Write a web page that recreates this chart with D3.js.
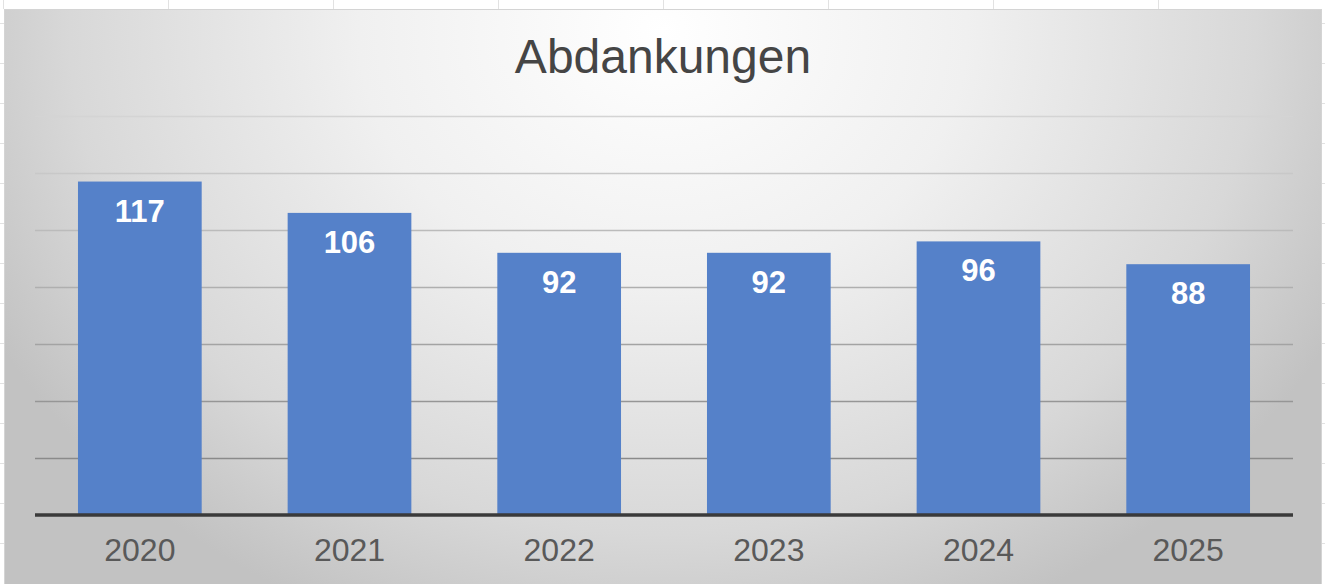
<!DOCTYPE html>
<html><head><meta charset="utf-8">
<script src="https://cdn.jsdelivr.net/npm/d3@7"></script>
<style>html,body{margin:0;padding:0;background:#fff;}svg{display:block;}</style>
</head><body>
<svg id="chart" width="1325" height="584"></svg>
<script>
const title = "Abdankungen";
const years = ["2020","2021","2022","2023","2024","2025"];
const values = [117, 106, 92, 92, 96, 88];
const yTicks = [0, 20, 40, 60, 80, 100, 120, 140];

const W = 1325, H = 584;
const svg = d3.select("#chart");
const defs = svg.append("defs");

// spreadsheet backdrop
const sheet = svg.append("g");
[3,168,333,498,663,828,993,1158].forEach(x => sheet.append("line")
  .attr("x1", x+0.5).attr("x2", x+0.5).attr("y1", 0).attr("y2", 9).attr("stroke", "#e2e2e2"));
[23,63,103,143,183,223,263,303,343,383,423,463,503,543].forEach(y => {
  sheet.append("line").attr("x1",0).attr("x2",4).attr("y1",y+0.5).attr("y2",y+0.5).attr("stroke","#e2e2e2");
  sheet.append("line").attr("x1",1322).attr("x2",1325).attr("y1",y+0.5).attr("y2",y+0.5).attr("stroke","#e2e2e2");
});

// chart background (radial gradient)
const rg = defs.append("radialGradient").attr("id","bg")
  .attr("gradientUnits","userSpaceOnUse").attr("cx",663).attr("cy",30).attr("r",760)
  .attr("gradientTransform","translate(663,30) scale(1,0.85) translate(-663,-30)");
rg.append("stop").attr("offset","0").attr("stop-color","#ffffff");
rg.append("stop").attr("offset","0.4").attr("stop-color","#f0f0f0");
rg.append("stop").attr("offset","0.78").attr("stop-color","#d8d8d8");
rg.append("stop").attr("offset","1").attr("stop-color","#c2c2c2");
svg.append("rect").attr("x",4.5).attr("y",9.5).attr("width",1317).attr("height",575)
  .attr("fill","url(#bg)").attr("stroke","#d4d4d4").attr("stroke-width",1);

const plot = {left: 35, right: 1293, top: 116, bottom: 515};
const x = d3.scaleBand().domain(years).range([plot.left, plot.right]).paddingInner(0.41).paddingOuter(0.205);
const y = d3.scaleLinear().domain([0, 140]).range([plot.bottom, 116]);
const gridColor = d3.scaleLinear().domain([140, 20]).range(["#d4d4d4", "#8a8a8a"]);

// gridlines via axis
const gridAxis = d3.axisLeft(y).tickValues(yTicks.slice(1)).tickSize(-(plot.right - plot.left)).tickFormat("");
const gridG = svg.append("g").attr("transform", `translate(${plot.left},0)`).call(gridAxis);
gridG.select(".domain").remove();
gridG.selectAll(".tick line").attr("stroke", d => gridColor(d)).attr("stroke-width",1.3);

// bars
svg.append("g").selectAll("rect").data(values).join("rect")
  .attr("x", (d,i) => x(years[i])).attr("y", d => y(d))
  .attr("width", x.bandwidth()).attr("height", d => y(0) - y(d))
  .attr("fill", "#5581c9");

// value labels
svg.append("g").selectAll("text").data(values).join("text")
  .attr("x", (d,i) => x(years[i]) + x.bandwidth()/2).attr("y", d => y(d) + 40)
  .attr("text-anchor","middle").attr("fill","#ffffff")
  .attr("font-family","'Liberation Sans', Arial, sans-serif").attr("font-weight","bold").attr("font-size",31)
  .text(d => d);

// x axis
const xAxis = d3.axisBottom(x).tickSize(0).tickPadding(0);
const xg = svg.append("g").attr("transform", `translate(0,${plot.bottom})`).call(xAxis);
xg.select(".domain").remove();
xg.selectAll(".tick text").attr("dy", null).attr("y", 46)
  .attr("font-family","'Liberation Sans', Arial, sans-serif").attr("font-size",32).attr("fill","#595959");
svg.append("line").attr("x1",plot.left).attr("x2",plot.right).attr("y1",plot.bottom).attr("y2",plot.bottom)
  .attr("stroke","#3a3a3a").attr("stroke-width",3.5);

// title
svg.append("text").attr("x", 663).attr("y", 73).attr("text-anchor","middle")
  .attr("font-family","'Liberation Sans', Arial, sans-serif").attr("font-size",48).attr("fill","#454545")
  .text(title);
</script>
</body></html>
